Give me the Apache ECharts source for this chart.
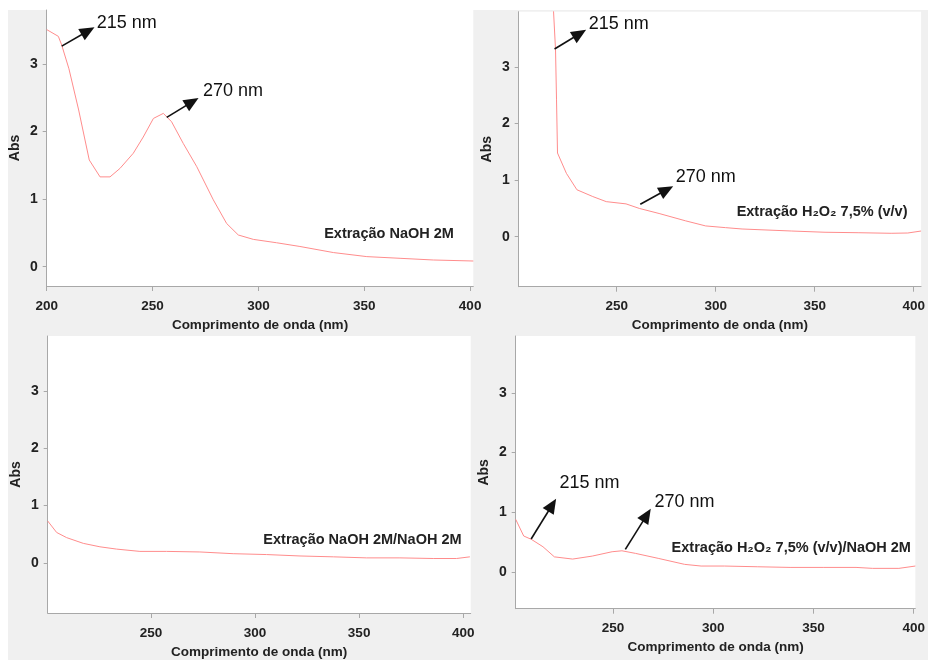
<!DOCTYPE html>
<html><head><meta charset="utf-8">
<script src="https://cdn.jsdelivr.net/npm/echarts@6/dist/echarts.min.js"></script>
<style>html,body{margin:0;padding:0;background:#fff}#c{width:928px;height:660px}</style>
</head><body><div id="c"></div><script>
// ---- data ----
const wl1 = [200,205.5,207.1,210.5,215.1,217.8,220.1,225.2,229.9,234.6,240.9,245.6,250.4,255.1,259.0,264.5,270.9,278.7,285.0,290.5,297.6,308.6,319.6,335.4,351.2,366.9,382.6,401.5];
const abs1 = [3.51,3.41,3.28,2.93,2.32,1.92,1.58,1.33,1.33,1.455,1.68,1.92,2.195,2.27,2.145,1.825,1.48,0.99,0.64,0.47,0.405,0.355,0.30,0.21,0.15,0.125,0.10,0.085];
const wl2 = [217.5,218.1,219.1,219.6,220.1,224.6,229.9,237.9,244.7,254.7,261.4,271.4,284.8,294.9,304.9,313.3,338.4,355.2,371.9,388.6,397.0,403.7];
const abs2 = [4.5,3.98,3.31,2.42,1.48,1.12,0.83,0.71,0.62,0.58,0.50,0.41,0.28,0.19,0.16,0.136,0.10,0.078,0.07,0.06,0.065,0.10];
const wl3 = [200.4,204.7,209.5,217.5,225.5,233.5,244.7,257.5,273.5,289.5,305.5,321.6,337.6,353.6,369.6,385.6,396.8,403.2];
const abs3 = [0.73,0.53,0.44,0.34,0.28,0.24,0.20,0.20,0.19,0.16,0.145,0.12,0.105,0.087,0.087,0.076,0.076,0.105];
const wl4 = [201.4,205.4,209.2,215.0,220.7,229.8,239.6,249.5,254.4,261.1,272.5,285.7,293.9,305.5,321.9,338.3,354.8,371.2,379.5,392.6,400.8];
const abs4 = [0.88,0.60,0.544,0.42,0.25,0.213,0.263,0.336,0.352,0.309,0.225,0.124,0.096,0.096,0.084,0.073,0.073,0.073,0.057,0.057,0.096];

const xTicksFirst = [200,250,300,350,400];
const xTicks = [250,300,350,400];
const yTicks = [0,1,2,3];

const xName = 'Comprimento de onda (nm)';
const yName = 'Abs';
const sampleLabels = ['Extração NaOH 2M','Extração H₂O₂ 7,5% (v/v)','Extração NaOH 2M/NaOH 2M','Extração H₂O₂ 7,5% (v/v)/NaOH 2M'];
const peakLabels = ['215 nm','270 nm'];

// annotation anchor positions in data units (per panel)
const arrows1 = [[[207.1,3.265],[219.5,3.49]],[[256.7,2.21],[268.7,2.44]]];
const arrows2 = [[[218.6,3.32],[231.3,3.59]],[[261.9,0.574],[275.2,0.83]]];
const arrows4 = [[[209.1,0.55],[219.6,1.12]],[[256.1,0.376],[266.8,0.95]]];
const peakPos1 = [[223.6,3.61],[273.8,2.60]];
const peakPos2 = [[235.9,3.77],[279.8,1.05]];
const peakPos4 = [[223.2,1.484],[270.6,1.175]];
const samplePos = [[361.7,0.48],[353.7,0.44],[351.6,0.394],[338.9,0.393]];

// ---- styling ----
const boldFont = "'Liberation Sans',Arial,sans-serif";
const regular = "'Liberation Sans',Arial,sans-serif";
const axisColor = '#a8a8a8';
const lineColor = '#ff8c8c';

const grids = [
  {left:46.7, top:10, width:426.6, height:276},
  {left:518.7, top:11.7, width:404.6, height:275},
  {left:47.7, top:336, width:423, height:278},
  {left:515.7, top:336, width:404.3, height:272.7}
];
const xRanges = [[200,401.5],[200.5,403.7],[200.4,403.6],[201.4,400.8]];
const yRanges = [[-0.285,3.8],[-0.885,3.98],[-0.874,3.955],[-0.62,3.957]];

function xAxis(i){
  const ticks = i===0 ? xTicksFirst : xTicks;
  return {
    type:'value', gridIndex:i, min:xRanges[i][0], max:xRanges[i][1],
    name:xName, nameLocation:'middle', nameGap:32,
    nameTextStyle:{fontFamily:boldFont, fontWeight:'bold', fontSize:13.5, color:'#222'},
    axisLine:{show:true, onZero:false, lineStyle:{color:axisColor, width:1}},
    axisTick:{show:true, length:5, customValues:ticks, lineStyle:{color:axisColor}},
    axisLabel:{customValues:ticks, margin:13, color:'#222', fontFamily:boldFont, fontWeight:'bold', fontSize:13.5, showMinLabel:true, showMaxLabel:true},
    splitLine:{show:false}
  };
}
function yAxis(i){
  return {
    type:'value', gridIndex:i, min:yRanges[i][0], max:yRanges[i][1],
    name:yName, nameLocation:'middle', nameGap:25,
    nameTextStyle:{fontFamily:boldFont, fontWeight:'bold', fontSize:14, color:'#222'},
    axisLine:{show:true, onZero:false, lineStyle:{color:axisColor, width:1}},
    axisTick:{show:true, length:4, customValues:yTicks, lineStyle:{color:axisColor}},
    axisLabel:{customValues:yTicks, margin:9, color:'#222', fontFamily:boldFont, fontWeight:'bold', fontSize:14},
    splitLine:{show:false}
  };
}
function zip(a,b){ return a.map((v,k)=>[v,b[k]]); }

function series(i, wl, ab, arrows, peakPos){
  const mpData = [];
  if (peakPos){
    peakPos.forEach((p,k)=>mpData.push({name:peakLabels[k], coord:p,
      label:{position:'right', distance:0, fontFamily:regular, fontSize:18, color:'#111', formatter:'{b}'}}));
  }
  mpData.push({name:sampleLabels[i], coord:samplePos[i],
    label:{position:'inside', fontFamily:boldFont, fontWeight:'bold', fontSize:14.5, color:'#222', formatter:'{b}'}});
  const s = {
    type:'line', xAxisIndex:i, yAxisIndex:i, data:zip(wl,ab),
    showSymbol:false, symbol:'none', smooth:false, clip:true,
    lineStyle:{color:lineColor, width:1}, itemStyle:{color:lineColor},
    silent:true, animation:false,
    markPoint:{silent:true, symbol:'circle', symbolSize:0, itemStyle:{color:'rgba(0,0,0,0)'}, data:mpData}
  };
  if (arrows){
    s.markLine = {silent:true, symbol:['none','triangle'], symbolSize:[13,15], precision:3,
      lineStyle:{color:'#111', width:1.6, type:'solid'}, label:{show:false},
      data:arrows.map(a=>[{coord:a[0]},{coord:a[1]}])};
  }
  return s;
}

const chart = echarts.init(document.getElementById('c'), null, {renderer:'canvas'});
chart.setOption({
  backgroundColor:'#fff',
  animation:false,
  graphic:[{type:'rect', z:-100, silent:true, shape:{x:8, y:10, width:920, height:650}, style:{fill:'#f0f0f0'}}],
  grid:grids.map(g=>Object.assign({show:true, backgroundColor:'#fff', borderWidth:0, containLabel:false}, g)),
  xAxis:[0,1,2,3].map(xAxis),
  yAxis:[0,1,2,3].map(yAxis),
  series:[
    series(0, wl1, abs1, arrows1, peakPos1),
    series(1, wl2, abs2, arrows2, peakPos2),
    series(2, wl3, abs3, null, null),
    series(3, wl4, abs4, arrows4, peakPos4)
  ]
});
</script></body></html>
